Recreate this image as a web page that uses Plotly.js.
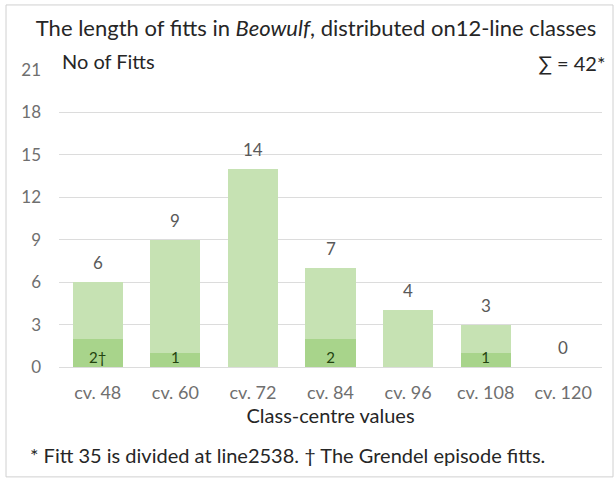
<!DOCTYPE html>
<html>
<head>
<meta charset="utf-8">
<script src="https://cdn.plot.ly/plotly-3.0.1.min.js"></script>
<style>
  html, body { margin: 0; padding: 0; background: #fff; }
  #chart { width: 616px; height: 478px; }
</style>
</head>
<body>
<div id="chart"></div>
<script>
// Class-centre values (12-line classes) and fitt counts
const classLabels = ["cv. 48", "cv. 60", "cv. 72", "cv. 84", "cv. 96", "cv. 108", "cv. 120"];
const totalFitts  = [6, 9, 14, 7, 4, 3, 0];
// Grendel episode fitts within each class
const grendelFitts = [2, 1, 0, 2, 0, 1, 0];
const grendelMarks = ["†", "", "", "", "", "", ""];
const yTicks = [0, 3, 6, 9, 12, 15, 18, 21];

const font = "Lato, 'Open Sans', 'Liberation Sans', sans-serif";
const lightGreen = "#c6e2b3";
const darkGreen = "#a8d48b";

const restFitts = totalFitts.map((t, i) => t - grendelFitts[i]);
const grendelText = grendelFitts.map((v, i) => v > 0 ? v + grendelMarks[i] : "");

const traces = [
  {
    type: "bar", x: classLabels, y: grendelFitts,
    marker: { color: darkGreen }, hoverinfo: "skip"
  },
  {
    type: "bar", x: classLabels, y: restFitts,
    marker: { color: lightGreen }, hoverinfo: "skip"
  },
  {
    // Grendel counts at the foot of the bars
    type: "scatter", mode: "text", x: classLabels, y: grendelFitts.map(() => 0),
    text: grendelText, textposition: "top center",
    textfont: { family: font, size: 15, color: "#23430f" },
    cliponaxis: false, hoverinfo: "skip"
  }
];

// totals above each bar
const totalLabels = classLabels.map((c, i) => ({
  x: c, y: totalFitts[i], xref: "x", yref: "y",
  text: String(totalFitts[i]), showarrow: false,
  yanchor: "bottom", yshift: 7,
  font: { family: font, size: 17, color: "#595959" }
}));

const layout = {
  width: 616, height: 478,
  margin: { l: 59, r: 14, t: 70, b: 111 },
  paper_bgcolor: "#ffffff", plot_bgcolor: "#ffffff",
  showlegend: false,
  barmode: "stack",
  bargap: 0.355,
  font: { family: font, color: "#595959" },
  title: {
    text: "The length of fitts in <i>Beowulf</i>, distributed on12-line classes",
    font: { family: font, size: 22, color: "#262626" },
    xref: "container", x: 0.513, xanchor: "center",
    yref: "container", y: 1 - 28 / 478, yanchor: "middle"
  },
  xaxis: {
    type: "category",
    tickfont: { family: font, size: 18, color: "#6f6f6f" },
    ticks: "", showline: false, showgrid: false, zeroline: false,
    ticklabelstandoff: 13,
    title: {
      text: "Class-centre values",
      font: { family: font, size: 20, color: "#262626" },
      standoff: 1
    }
  },
  yaxis: {
    range: [0, 21],
    tickvals: yTicks,
    ticktext: yTicks.map(String),
    tickfont: { family: font, size: 17, color: "#6f6f6f" },
    ticks: "", showline: false,
    gridcolor: "#dcdcdc", gridwidth: 1,
    zeroline: true, zerolinecolor: "#dcdcdc", zerolinewidth: 1,
    ticklabelstandoff: 17
  },
  annotations: totalLabels.concat([
    {
      text: "No of Fitts\u00a0\u00a0\u00a0",
      xref: "paper", yref: "paper", x: 0, y: 1.03,
      xanchor: "left", yanchor: "middle", showarrow: false,
      bgcolor: "#ffffff", borderpad: 2,
      font: { family: font, size: 20, color: "#262626" }
    },
    {
      text: "\u00a0\u00a0\u2211 = 42*",
      xref: "paper", yref: "paper", x: 1.011, y: 1.025,
      xanchor: "right", yanchor: "middle", showarrow: false,
      bgcolor: "#ffffff", borderpad: 2,
      font: { family: font, size: 20, color: "#262626" }
    },
    {
      text: "* Fitt 35 is divided at line2538. \u2020 The Grendel episode fitts.",
      xref: "paper", yref: "paper", x: -0.057, y: -0.296,
      xanchor: "left", yanchor: "middle", showarrow: false,
      font: { family: font, size: 20, color: "#262626" }
    }
  ]),
  shapes: [
    {
      // frame round the whole figure
      type: "rect", xref: "paper", yref: "paper",
      x0: -0.0976, x1: 1.0203, y0: -0.370, y1: 1.219,
      line: { color: "#d0d0d0", width: 1 }, layer: "above"
    }
  ]
};

Plotly.newPlot("chart", traces, layout, { staticPlot: true, displayModeBar: false });
</script>
</body>
</html>
